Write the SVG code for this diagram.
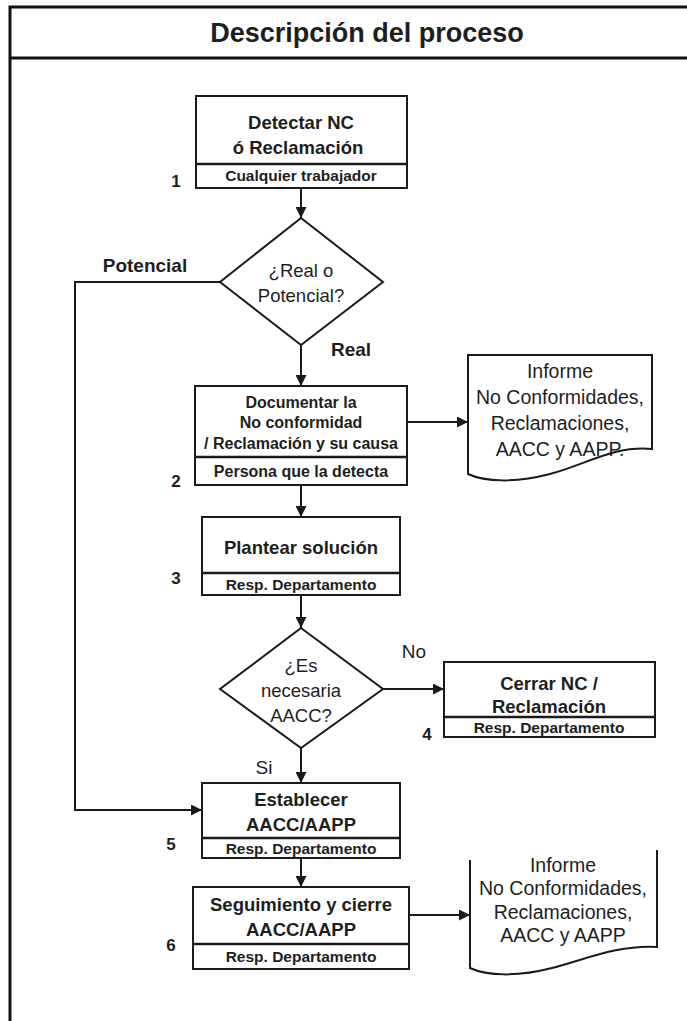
<svg xmlns="http://www.w3.org/2000/svg" width="687" height="1021" viewBox="0 0 687 1021">
<defs>
<marker id="ah" viewBox="0 0 10 10" refX="10" refY="5" markerWidth="11" markerHeight="11" markerUnits="userSpaceOnUse" orient="auto">
<path d="M0,0 L10,5 L0,10 Z" fill="#1a1a1a"/>
</marker>
<style>
text{font-family:"Liberation Sans",Arial,sans-serif;fill:#1e1e1e;text-anchor:middle}
.box{fill:#fff;stroke:#1a1a1a;stroke-width:2}
.div{stroke:#1a1a1a;stroke-width:2.5}
.t{font-size:18.5px;font-weight:bold}
.s{font-size:15.5px;font-weight:bold}
.m{font-size:16px;font-weight:bold}
.d{font-size:18.5px}
.dd{font-size:19.5px}
.n{font-size:17px;font-weight:bold}
.lbl{font-size:19px;font-weight:bold}
.lbn{font-size:19px}
.c{fill:none;stroke:#1a1a1a;stroke-width:2}
</style>
</defs>
<rect width="687" height="1021" fill="#fff"/>
<g id="frame">
<path d="M687,7 H10 V1021" fill="none" stroke="#111" stroke-width="3"/>
<line x1="10" y1="58" x2="687" y2="58" stroke="#111" stroke-width="3"/>
<text x="367" y="42" style="font-size:27px;font-weight:bold">Descripción del proceso</text>
</g>
<g id="connectors">
<line class="c" x1="301" y1="188" x2="301" y2="218" marker-end="url(#ah)"/>
<line class="c" x1="301" y1="345" x2="301" y2="386" marker-end="url(#ah)"/>
<polyline class="c" points="220,282 75,282 75,810 202,810" marker-end="url(#ah)"/>
<line class="c" x1="407" y1="422" x2="468" y2="422" marker-end="url(#ah)"/>
<line class="c" x1="301" y1="485" x2="301" y2="517" marker-end="url(#ah)"/>
<line class="c" x1="301" y1="595" x2="301" y2="628" marker-end="url(#ah)"/>
<line class="c" x1="383" y1="689" x2="444" y2="689" marker-end="url(#ah)"/>
<line class="c" x1="301" y1="748" x2="301" y2="783" marker-end="url(#ah)"/>
<line class="c" x1="301" y1="858" x2="301" y2="887" marker-end="url(#ah)"/>
<line class="c" x1="409" y1="915" x2="470" y2="915" marker-end="url(#ah)"/>
<text class="lbl" x="145" y="272">Potencial</text>
<text class="lbl" x="351" y="356">Real</text>
<text class="lbn" x="414" y="658">No</text>
<text class="lbn" x="264" y="774">Si</text>
</g>
<g id="n1">
<rect class="box" x="196" y="96" width="211" height="92"/>
<line class="div" x1="196" y1="164" x2="407" y2="164"/>
<text class="t" x="301" y="129">Detectar NC</text>
<text class="t" x="298" y="154">ó  Reclamación</text>
<text class="s" x="301" y="181">Cualquier trabajador</text>
<text class="n" x="176" y="187">1</text>
</g>
<g id="d1">
<polygon class="box" points="301,218 383,282 301,345 220,282"/>
<text class="d" x="301" y="277">¿Real o</text>
<text class="d" x="301" y="302">Potencial?</text>
</g>
<g id="n2">
<rect class="box" x="195" y="386" width="212" height="99"/>
<line class="div" x1="195" y1="457" x2="407" y2="457"/>
<text class="m" x="301" y="408">Documentar la</text>
<text class="m" x="301" y="428">No conformidad</text>
<text class="m" x="301" y="449">/ Reclamación y su causa</text>
<text class="m" x="301" y="477">Persona que la detecta</text>
<text class="n" x="176" y="487">2</text>
</g>
<g id="doc1">
<path class="box" d="M468,355 H652 V449 C615,445 585,465 550,474 C515,483 485,482 468,474 Z"/>
<text class="dd" x="560" y="378">Informe</text>
<text class="dd" x="560" y="404">No Conformidades,</text>
<text class="dd" x="560" y="430">Reclamaciones,</text>
<text class="dd" x="560" y="456">AACC y AAPP.</text>
</g>
<g id="n3">
<rect class="box" x="202" y="517" width="198" height="78"/>
<line class="div" x1="202" y1="573" x2="400" y2="573"/>
<text class="t" x="301" y="554">Plantear solución</text>
<text class="s" x="301" y="590">Resp. Departamento</text>
<text class="n" x="176" y="584">3</text>
</g>
<g id="d2">
<polygon class="box" points="301,628 383,689 301,748 220,689"/>
<text class="d" x="301" y="672">¿Es</text>
<text class="d" x="301" y="697">necesaria</text>
<text class="d" x="301" y="722">AACC?</text>
</g>
<g id="n4">
<rect class="box" x="444" y="662" width="211" height="75"/>
<line class="div" x1="444" y1="717" x2="655" y2="717"/>
<text class="t" x="549" y="690">Cerrar NC /</text>
<text class="t" x="549" y="713">Reclamación</text>
<text class="s" x="549" y="733">Resp. Departamento</text>
<text class="n" x="427" y="740">4</text>
</g>
<g id="n5">
<rect class="box" x="202" y="783" width="198" height="75"/>
<line class="div" x1="202" y1="838" x2="400" y2="838"/>
<text class="t" x="301" y="806">Establecer</text>
<text class="t" x="301" y="831">AACC/AAPP</text>
<text class="s" x="301" y="854">Resp. Departamento</text>
<text class="n" x="171" y="850">5</text>
</g>
<g id="n6">
<rect class="box" x="193" y="887" width="216" height="82"/>
<line class="div" x1="193" y1="944" x2="409" y2="944"/>
<text class="t" x="301" y="911">Seguimiento y cierre</text>
<text class="t" x="301" y="936">AACC/AAPP</text>
<text class="s" x="301" y="962">Resp. Departamento</text>
<text class="n" x="171" y="951">6</text>
</g>
<g id="doc2">
<path d="M470,860 V968 C487,976 517,977 552,968 C587,959 617,945 657,947 V850" fill="#fff" stroke="#1a1a1a" stroke-width="2"/>
<text class="dd" x="563" y="872">Informe</text>
<text class="dd" x="563" y="895">No Conformidades,</text>
<text class="dd" x="563" y="919">Reclamaciones,</text>
<text class="dd" x="563" y="942">AACC y AAPP</text>
</g>
</svg>
